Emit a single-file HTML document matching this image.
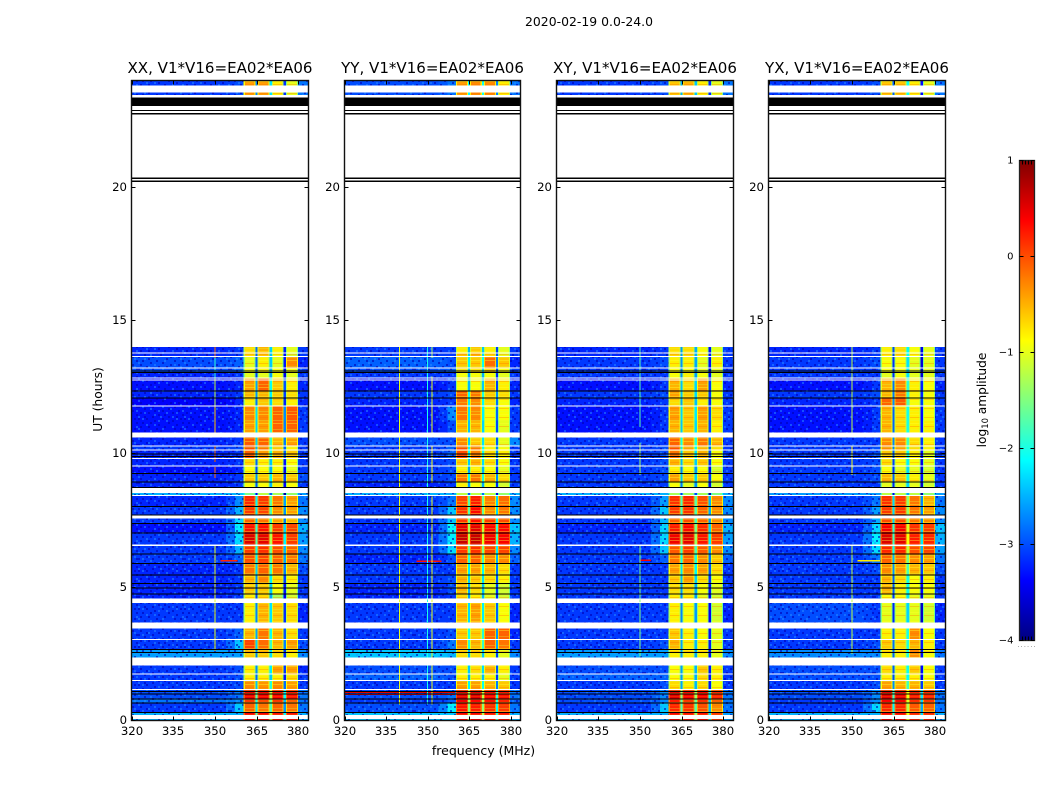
<!DOCTYPE html>
<html lang="en">
<head>
<meta charset="utf-8">
<title>2020-02-19 cross-power spectrograms</title>
<style>
html,body{margin:0;padding:0;background:#fff;}
svg{display:block;}
text{font-family:"DejaVu Sans","Liberation Sans",sans-serif;fill:#000;}
</style>
</head>
<body>
<svg id="chart" xmlns="http://www.w3.org/2000/svg" width="1050" height="800" viewBox="0 0 1050 800">
<defs>
<linearGradient id="jetGrad" x1="0" y1="1" x2="0" y2="0"></linearGradient>
<pattern id="speckle" width="46" height="38" patternUnits="userSpaceOnUse">
<path fill="#0000b4" opacity=".6" d="M0 0h2v2h-2zM8 0h2v2h-2zM16 2h2v2h-2zM24 0h2v2h-2zM34 2h2v2h-2zM42 0h2v2h-2zM4 4h2v2h-2zM12 4h2v2h-2zM20 6h2v2h-2zM30 4h2v2h-2zM38 6h2v2h-2zM44 4h2v2h-2zM2 8h2v2h-2zM10 8h2v2h-2zM26 8h2v2h-2zM36 10h2v2h-2zM18 10h2v2h-2zM42 10h2v2h-2zM6 12h2v2h-2zM14 14h2v2h-2zM22 12h2v2h-2zM32 14h2v2h-2zM40 14h2v2h-2zM0 14h2v2h-2zM10 16h2v2h-2zM28 16h2v2h-2zM44 18h2v2h-2zM4 18h2v2h-2zM18 18h2v2h-2zM36 18h2v2h-2zM24 20h2v2h-2zM12 20h2v2h-2zM2 22h2v2h-2zM32 22h2v2h-2zM40 22h2v2h-2zM8 24h2v2h-2zM20 24h2v2h-2zM28 24h2v2h-2zM44 26h2v2h-2zM14 26h2v2h-2zM36 26h2v2h-2zM0 26h2v2h-2zM6 28h2v2h-2zM24 30h2v2h-2zM16 30h2v2h-2zM30 28h2v2h-2zM40 30h2v2h-2zM10 32h2v2h-2zM2 32h2v2h-2zM34 32h2v2h-2zM20 34h2v2h-2zM44 34h2v2h-2zM26 34h2v2h-2zM6 36h2v2h-2zM14 36h2v2h-2zM38 36h2v2h-2zM30 36h2v2h-2z"/>
<path fill="#2a90ff" opacity=".5" d="M4 0h2v2h-2zM20 2h2v2h-2zM38 0h2v2h-2zM28 2h2v2h-2zM8 6h2v2h-2zM16 6h2v2h-2zM34 8h2v2h-2zM44 8h2v2h-2zM0 10h2v2h-2zM24 10h2v2h-2zM12 12h2v2h-2zM36 14h2v2h-2zM18 14h2v2h-2zM6 16h2v2h-2zM42 16h2v2h-2zM26 18h2v2h-2zM0 20h2v2h-2zM16 22h2v2h-2zM36 22h2v2h-2zM10 24h2v2h-2zM42 24h2v2h-2zM24 26h2v2h-2zM4 26h2v2h-2zM32 28h2v2h-2zM12 28h2v2h-2zM20 30h2v2h-2zM44 30h2v2h-2zM6 32h2v2h-2zM28 32h2v2h-2zM38 32h2v2h-2zM16 34h2v2h-2zM0 36h2v2h-2zM34 36h2v2h-2zM22 36h2v2h-2z"/>
</pattern>
<pattern id="bandStripes" width="8" height="9" patternUnits="userSpaceOnUse">
<rect x="0" y="0" width="8" height="1" fill="#ffff30" opacity=".4"/>
<rect x="0" y="3" width="8" height="1" fill="#ff6a00" opacity=".32"/>
<rect x="0" y="6" width="8" height="1" fill="#d8ff40" opacity=".3"/>
</pattern>
</defs>
<rect x="0" y="0" width="1050" height="800" fill="#fff"/>
<text x="589" y="26" font-size="12.4" text-anchor="middle" textLength="128">2020-02-19 0.0-24.0</text>
<text x="483.5" y="755" font-size="12.5" text-anchor="middle">frequency (MHz)</text>
<text transform="translate(102,399.5) rotate(-90)" font-size="12.3" text-anchor="middle">UT (hours)</text>
<text transform="translate(986,400) rotate(-90)" font-size="12.2" text-anchor="middle">log<tspan font-size="8.4" dy="2">10</tspan><tspan dy="-2"> amplitude</tspan></text>
<g id="panels"></g>
<g id="colorbar"></g>
</svg>
<script>
/* ---- shared axis data ---- */
const freqTicks = [320, 335, 350, 365, 380];
const timeTicks = [0, 5, 10, 15, 20];
const colorTicks = [1, 0, -1, -2, -3, -4];
const freqRange = [320, 383.6];
const timeRange = [0, 24];
const colorRange = [-4, 1];
const panelTitles = ['XX, V1*V16=EA02*EA06', 'YY, V1*V16=EA02*EA06', 'XY, V1*V16=EA02*EA06', 'YX, V1*V16=EA02*EA06'];

/* time rows (hours) each holding one estimated amplitude per frequency block */
const rowStart = [24,14,13.8,13.65,13.24,13.05,12.82,12.37,12.11,11.81,11.25,10.61,10.31,10.16,9.82,9.56,9.26,8.96,8.55,8.44,8.02,7.57,7.39,7.05,6.6,6.26,5.89,5.47,5.14,4.76,4.42,3.45,3.04,2.66,2.06,1.72,1.5,1.16,0.82,0.64,0.3];
const rowEnd = [23.45,13.8,13.65,13.24,13.05,12.82,12.37,12.11,11.81,11.25,10.8,10.31,10.16,9.82,9.56,9.26,8.96,8.74,8.44,8.02,7.72,7.39,7.05,6.6,6.26,5.89,5.47,5.14,4.76,4.54,3.67,3.04,2.66,2.36,1.72,1.5,1.16,0.82,0.64,0.3,0];

/* frequency blocks (MHz): base, ramp, band A, band B, band C, band D, upper edge */
const baseBlock = [320, 354];
const rampBlock = [354, 360.3];
const bandBlocks = [[360.3,364.6],[365.3,369.6],[370.4,374.7],[375.5,379.8]];
const gapBlocks = [[364.6,365.3],[369.6,370.4],[374.7,375.5]];
const upperBlock = [379.8, 383.6];

/* [base, ramp, A, B, C, D, upper] per row, log10 amplitude */
const valuesXX = [
[-3.1,-3,-.4,-.4,-.8,-1,-2.8],[-3.2,-3.1,-.7,-.5,-.8,-1,-3.1],[-3.2,-3.1,-.7,-.6,-.9,-1.1,-3.1],[-3,-2.9,-1,-.8,-1,-.3,-3.2],
[-3,-2.9,-.9,-.8,-.9,-.9,-3.1],[-3.2,-3.1,-1,-1,-.9,-1,-3.1],[-3.3,-3.2,-.4,-.1,-.6,-.8,-3.2],[-3.2,-3.1,-.5,-.5,-.6,-.7,-3.1],
[-3.4,-3.2,-.8,-.6,-.7,-.8,-3.2],[-3.3,-3.2,-.3,-.3,-.1,-.05,-3.1],[-3.3,-3.2,-.4,-.4,-.1,-.1,-3.1],[-3.2,-3.1,-.05,-.1,-.5,-.4,-3.1],
[-3.1,-3,0,-.2,-.6,-.8,-3.1],[-3.2,-3.1,-.1,-.4,-.5,-.6,-3.1],[-3.2,-3.1,-.7,-.8,-.8,-.9,-3.1],[-3.3,-3.2,-.9,-.9,-.9,-1,-3.1],
[-3.2,-3.1,-.6,-.6,-.5,-.6,-3],[-3.2,-3.1,-.9,-.9,-.8,-.9,-3.1],[-2.5,-2.4,-1.5,-1.2,-1.3,-1.4,-2.6],[-3.2,-2.7,.2,.1,-.2,-.4,-2.8],
[-3.1,-2.5,.1,.05,-.3,-.4,-2.7],[-3.1,-2.3,-.1,-.2,-.4,-.5,-2.7],[-3.3,-2.2,.3,.3,.1,.05,-2.5],[-3.1,-2.3,.55,.5,.3,.1,-2.6],
[-3.1,-2.5,.1,.15,0,-.1,-2.7],[-3.1,-2.9,0,.05,-.1,-.2,-2.8],[-3.2,-3.1,-.2,-.1,-.2,-.5,-3],[-3.2,-3.1,-.5,-.3,-.7,-.8,-3.1],
[-3.2,-3.1,-.6,-.6,-.9,-1,-3.1],[-3.2,-3.1,-.8,-.7,-1.3,-1.1,-3.1],[-3.1,-3.1,-.8,-.5,-.6,-.7,-3.2],[-3.1,-2.9,-.5,-.2,-.5,-.7,-3.1],
[-3.1,-2.4,.05,-.15,-.5,-.4,-3],[-2.6,-2.6,-.6,-.6,-.7,-.8,-2.7],[-3.1,-3,-.8,-.8,-.4,-.4,-3.2],[-3.1,-3,-.8,-.8,-.8,-.7,-3.1],
[-3.1,-3,-.3,-.35,-.3,-.4,-3.1],[-3,-2.8,.45,.4,.35,.3,-2.8],[-2.8,-2.7,.1,0,.1,-.1,-2.8],[-3.1,-2.4,-.1,-.2,-.1,-.2,-2.8],
[-2.5,-2.5,.4,.4,.3,.3,-2.5]];
const valuesYY = [
[-3,-2.8,-.4,-.3,-.3,-.8,-2.8],[-3.1,-3.1,-.8,-.6,-.8,-1,-3.1],[-3.1,-3.1,-.6,-.5,-.7,-1,-3.1],[-2.9,-3,-.6,-.6,-.15,-.6,-3.2],
[-3,-2.9,-.7,-.7,-.6,-.9,-3.1],[-3.1,-3.1,-.9,-.9,-.9,-1,-3.1],[-3.3,-3.1,-.9,-.9,-.5,-.8,-3.2],[-3.1,-3,-.1,-.2,-.6,-.7,-3.1],
[-3.2,-3.1,-.2,-.3,-.7,-.9,-3.2],[-3.3,-2.7,-.2,-.3,-.9,-.9,-3.1],[-3.3,-3,-.5,-.5,-.9,-1,-3.1],[-3,-3,-.3,-.6,-.7,-1,-2.7],
[-3.1,-2.9,0,-.2,-.8,-.9,-3.1],[-3.1,-2.9,0,-.25,-.7,-.8,-3.1],[-3.1,-3,-.6,-.5,-.7,-.9,-3.1],[-3.1,-3,-.8,-.8,-.9,-1,-3.1],
[-3.1,-3,-.2,-.2,-.5,-.7,-3.1],[-3.2,-3.1,-.8,-.9,-.9,-1.1,-3.1],[-2.5,-2.5,-1.2,-1.2,-1.2,-1.4,-2.5],[-3.1,-2.8,.05,.25,-.25,-.15,-2.7],
[-3.1,-2.4,.15,.35,-.3,-.2,-2.7],[-3.1,-2.4,.1,.3,.1,0,-2.7],[-3.2,-2.1,.5,.5,.35,.35,-2.4],[-3.1,-2.2,.65,.65,.45,.4,-2.5],
[-3.1,-2.3,.1,.15,.05,.05,-2.7],[-3.2,-3,-.1,-.1,-.3,-.3,-2.9],[-3.1,-3.1,-.4,-.4,-.5,-.7,-3.1],[-3.1,-3,-.5,-.6,-.7,-.8,-3.1],
[-3.2,-3,-.5,-.7,-1,-1.1,-3.1],[-3.2,-3.1,-.7,-.8,-1,-1.1,-3.1],[-3.1,-3.1,-.5,-.4,-.6,-.9,-3.2],[-3.1,-3,-.6,-.6,-.1,-.1,-3.2],
[-3.1,-2.8,-.3,-.5,-.1,-.2,-3.1],[-2.4,-2.5,-.7,-.7,-.8,-1,-2.7],[-3,-3,-.8,-.7,-.5,-.8,-3.1],[-2.9,-3,-.8,-.8,-.8,-1,-3.1],
[-3.1,-3.1,-.4,-.4,-.5,-.6,-3.1],[-3,-2.8,.5,.5,.35,.3,-2.8],[-3.1,-2.9,.45,.35,.3,.2,-2.9],[-3,-2.2,.3,.25,.15,.1,-2.8],
[-2.4,-2.4,.4,.4,.3,.3,-2.5]];
const valuesXY = [
[-3.1,-3,-.6,-.5,-.8,-1,-2.8],[-3.2,-3.1,-.7,-.7,-.9,-1,-3.1],[-3.2,-3.1,-.7,-.7,-.9,-1,-3.1],[-3.1,-3,-.8,-.8,-1,-.8,-3.1],
[-3.1,-3.1,-.9,-.9,-1,-1,-3.1],[-3.1,-3.1,-.9,-.8,-.9,-1,-3.1],[-3.3,-3.1,-.5,-.7,-.4,-.9,-3.2],[-3.1,-3,-.4,-.6,-.6,-.9,-3.1],
[-3.2,-3.1,-.7,-.6,-.8,-.9,-3.1],[-3.3,-3.1,-.4,-.6,-.4,-.7,-3.1],[-3.3,-3.1,-.5,-.6,-.5,-.8,-3.1],[-3.1,-3.1,-.1,-.3,-.2,-.5,-3.1],
[-3.1,-3,0,-.4,-.5,-.7,-3.1],[-3.1,-3,-.2,-.6,-.5,-.9,-3.1],[-3.1,-3,-.5,-.7,-.6,-.9,-3.1],[-3.1,-3,-.8,-.9,-.9,-1.1,-3.1],
[-3.1,-3,-.4,-.6,-.6,-.9,-3.1],[-3.1,-3.1,-.9,-1,-.9,-1.1,-3.1],[-2.5,-2.5,-1.3,-1.3,-1.3,-1.5,-2.5],[-3.1,-2.6,.15,.2,0,-.3,-2.7],
[-3.1,-2.4,.1,.15,-.1,-.3,-2.7],[-3.1,-2.5,-.1,0,-.1,-.3,-2.7],[-3.2,-2.3,.25,.35,.2,-.1,-2.5],[-3.1,-2.3,.45,.5,.3,.1,-2.6],
[-3.1,-2.4,-.05,.1,-.05,-.3,-2.7],[-3.1,-2.9,-.2,-.1,-.3,-.6,-2.9],[-3.1,-3.1,-.4,-.3,-.4,-.7,-3.1],[-3.1,-3.1,-.6,-.4,-.7,-.9,-3.1],
[-3.1,-3.1,-.7,-.7,-.9,-1,-3.1],[-3.1,-3.1,-.8,-.8,-1,-1.1,-3.1],[-3.1,-3.1,-.8,-.9,-.9,-1.1,-3.2],[-3.1,-3.1,-.6,-.8,-.9,-1,-3.1],
[-3.1,-3,-.5,-.8,-.8,-1,-3.1],[-2.6,-2.6,-.8,-.8,-.8,-1,-2.7],[-3,-3,-.9,-.9,-.6,-.8,-3.1],[-2.9,-2.9,-.9,-.9,-.7,-.8,-3.1],
[-3.1,-3,-.7,-.8,-.7,-.9,-3.1],[-3,-2.7,.5,.4,.4,.2,-2.8],[-3,-2.7,.25,.1,.15,-.1,-2.8],[-3.1,-2.4,.2,.15,0,-.3,-2.8],
[-2.5,-2.5,.4,.3,.3,.1,-2.6]];
const valuesYX = [
[-3.1,-3,-.6,-.6,-.8,-1,-2.8],[-3.2,-3.1,-.8,-.7,-.9,-1,-3.1],[-3.2,-3.1,-.8,-.7,-.9,-1,-3.1],[-3.1,-3,-.9,-.9,-1,-1,-3.1],
[-3.1,-3.1,-.9,-.9,-1,-1,-3.1],[-3.1,-3.1,-1,-.9,-1,-1,-3.1],[-3.3,-3.1,-.5,-.3,-.8,-.9,-3.2],[-3.1,-3,-.5,-.2,-.8,-.9,-3.1],
[-3.2,-3.1,-.1,-.05,-.9,-.9,-3.1],[-3.3,-3.1,-.5,-.7,-.8,-.9,-3.1],[-3.3,-3.1,-.5,-.7,-.8,-.8,-3.1],[-3.1,-3.1,-.3,-.3,-.7,-.8,-3.1],
[-3.1,-3,-.3,-.4,-.7,-.8,-3.1],[-3.1,-3,-.6,-.6,-.8,-1,-3.1],[-3.1,-3,-.7,-.9,-.9,-1,-3.1],[-3.1,-3,-.9,-1,-1,-1.1,-3.1],
[-3.1,-3,-.5,-.6,-.8,-1,-3.1],[-3.1,-3.1,-1,-1,-1,-1.1,-3.1],[-2.6,-2.6,-1.2,-1.2,-1.2,-1.4,-2.6],[-3.1,-2.8,.15,.1,-.2,-.5,-2.8],
[-3.1,-2.6,.1,.1,-.2,-.4,-2.7],[-3.1,-2.5,0,0,-.2,-.3,-2.7],[-3.2,-2.3,.4,.4,.15,.1,-2.4],[-3.1,-2.2,.55,.5,.25,.2,-2.5],
[-3.1,-2.3,.2,.2,0,.05,-2.6],[-3.1,-2.8,-.1,-.2,-.3,-.4,-2.8],[-3.1,-3,-.3,-.4,-.5,-.6,-3],[-3.1,-3.1,-.5,-.7,-.9,-.8,-3.1],
[-3.1,-3.1,-.5,-.8,-.9,-.9,-3.1],[-3.1,-3.1,-.9,-.9,-1,-1,-3.1],[-3,-3.1,-1,-1,-1,-1.1,-3.2],[-3.1,-3.1,-.8,-.8,-.3,-.9,-3.1],
[-3.1,-3,-.6,-.7,-.5,-.8,-3.1],[-2.7,-2.7,-.8,-.8,-.3,-.9,-2.8],[-3,-3,-.7,-.8,-.6,-.9,-3.1],[-3,-3,-.8,-.8,-.8,-.9,-3.1],
[-3.1,-3,-.4,-.5,-.5,-.6,-3.1],[-3,-2.7,.5,.45,.25,.2,-2.8],[-3.1,-2.7,.4,.4,.15,.1,-2.8],[-3.1,-2.3,.2,.2,-.05,-.1,-2.8],
[-2.5,-2.5,.4,.4,.2,.2,-2.5]];

/* amount the three narrow frequency notches sit below their row's band mean */
const gapOffsetsXX = [-2.1, -1.6, -2.5];
const gapOffsetsYY = [-1.7, -1.6, -2.3];
const gapOffsetsXY = [-1.8, -1.7, -2.5];
const gapOffsetsYX = [-2.2, -1.3, -2.6];

/* narrow interference at one frequency: [MHz, start hour, end hour, value] */
const linesXX = [[350,14,13.6,-.2],[350,13.6,12.8,-1.9],[350,12.8,11.8,-1.2],[350,11.8,10.8,-.6],[350,10.3,9.7,-.2],[350,9.5,9.1,-.2],[350,6.6,2.6,-1]];
const linesYY = [[339.8,14,.6,-1],[350,14,.6,-2],[351.6,14,13.6,-1.3],[351.6,12.9,10.8,-1],[351.6,10.3,8.9,-.9],[351.6,8.4,.6,-1]];
const linesXY = [[350,14,11,-1.7],[350,10.4,9.2,-1.3],[350,6.6,2.4,-1.5]];
const linesYX = [[350,14,10.8,-1.2],[350,10.3,9.2,-.9],[350,6.6,2.5,-1.2]];

/* short interference in time: [start hour, end hour, start MHz, end MHz, value] */
const burstsXX = [[1.02,.97,320,360,-1.3],[6.02,5.97,352,358,.2]];
const burstsYY = [[1.09,1.04,320,360,.5],[1,.96,320,360,.4],[6,5.95,346,355,.3]];
const burstsXY = [[1.02,.97,320,360,-1],[6.03,5.98,350,354,.4]];
const burstsYX = [[1.02,.97,320,360,-1],[6.02,5.97,352,360,-.8]];

/* fully flagged time ranges, identical on every baseline: [start hour, end hour] */
const blankRanges = [[23.81,23.55],[13.8,13.76],[13.67,13.63],[13.24,13.2],[12.86,12.82],[12.79,12.75],[11.82,11.78],[10.8,10.61],[10.32,10.28],[10.17,10.13],[9.84,9.8],[9.57,9.53],[8.71,8.54],[8.45,8.41],[7.66,7.57],[6.6,6.55],[4.57,4.53],[4.44,4.4],[3.65,3.46],[3.05,3.01],[2.37,2.06],[1.76,1.72],[1.52,1.48],[1.19,1.15],[.21,.06]];
const zeroRanges = [[23.36,23.04],[22.89,22.85],[22.79,22.73],[20.37,20.31],[20.25,20.19],[13.13,13.09],[13.07,13.03],[12.38,12.34],[12.12,12.08],[10.01,9.97],[9.92,9.88],[9.28,9.24],[8.97,8.93],[8.76,8.72],[8.04,8],[7.73,7.68],[7.41,7.37],[7.05,7.01],[6.27,6.23],[5.9,5.86],[5.48,5.44],[5.15,5.11],[4.99,4.95],[4.77,4.73],[2.69,2.65],[2.57,2.53],[1.11,1.07],[1.01,.97],[.83,.79],[.68,.64],[.32,.28]];

const panelValues = [valuesXX, valuesYY, valuesXY, valuesYX];
const panelGapOffsets = [gapOffsetsXX, gapOffsetsYY, gapOffsetsXY, gapOffsetsYX];
const panelLines = [linesXX, linesYY, linesXY, linesYX];
const panelBursts = [burstsXX, burstsYY, burstsXY, burstsYX];

/* ---- layout ---- */
const panelBoxes = [{x0:131.5,x1:308.5},{x0:344.5,x1:520.5},{x0:556.5,x1:733.5},{x0:768.5,x1:945.5}];
const plotTop = 80.5, plotBottom = 720.5;
const barBox = {x0:1019.5, x1:1034.5, y0:160.5, y1:640.5};
const SVGNS = 'http://www.w3.org/2000/svg';

function clamp(v){ return Math.max(0, Math.min(1, v)); }
function jet(t){
  const r = clamp(Math.min(4*t-1.5, -4*t+4.5));
  const g = clamp(Math.min(4*t-0.5, -4*t+3.5));
  const b = clamp(Math.min(4*t+0.5, -4*t+2.5));
  return 'rgb(' + Math.round(r*255) + ',' + Math.round(g*255) + ',' + Math.round(b*255) + ')';
}
function colorOf(v){ return jet((v - colorRange[0]) / (colorRange[1] - colorRange[0])); }
function yOf(h){ return plotBottom - (h - timeRange[0]) / (timeRange[1] - timeRange[0]) * (plotBottom - plotTop); }
function xScale(box){ return f => box.x0 + (f - freqRange[0]) / (freqRange[1] - freqRange[0]) * (box.x1 - box.x0); }
function rect(parent, x, y, w, h, fill){
  const r = document.createElementNS(SVGNS, 'rect');
  r.setAttribute('x', x.toFixed(2));
  r.setAttribute('y', y.toFixed(2));
  r.setAttribute('width', Math.max(w, 0).toFixed(2));
  r.setAttribute('height', Math.max(h, 0).toFixed(2));
  r.setAttribute('fill', fill);
  r.setAttribute('shape-rendering', 'crispEdges');
  parent.appendChild(r);
  return r;
}
function line(parent, x1, y1, x2, y2, stroke){
  const l = document.createElementNS(SVGNS, 'line');
  l.setAttribute('x1', x1); l.setAttribute('y1', y1);
  l.setAttribute('x2', x2); l.setAttribute('y2', y2);
  l.setAttribute('stroke', stroke);
  l.setAttribute('stroke-width', 1);
  parent.appendChild(l);
  return l;
}
function label(parent, x, y, str, size, anchor){
  const t = document.createElementNS(SVGNS, 'text');
  t.setAttribute('x', x); t.setAttribute('y', y);
  t.setAttribute('font-size', size);
  t.setAttribute('text-anchor', anchor);
  t.textContent = str;
  parent.appendChild(t);
  return t;
}
function group(parent){
  const g = document.createElementNS(SVGNS, 'g');
  parent.appendChild(g);
  return g;
}
function minus(v){ return String(v).replace('-', '\u2212'); }

function drawPanel(p){
  const box = panelBoxes[p], xOf = xScale(box);
  const values = panelValues[p], offsets = panelGapOffsets[p];
  const root = document.getElementById('panels');
  const g = group(root);
  
  

  const bg = rect(g, box.x0, plotTop, box.x1 - box.x0, plotBottom - plotTop, '#fff');
  
  

  const cells = group(g);
  
  

  values.forEach((row, i) => {
    const y = yOf(rowStart[i]), h = yOf(rowEnd[i]) - y;
    const bands = row.slice(2, 6);
    const mean = bands.reduce((a, b) => a + b, 0) / bands.length;
    const paint = (span, v, texture) => {
      const x = xOf(span[0]), w = xOf(span[1]) - x;
      const c = rect(cells, x, y, w, h, colorOf(v));
      
      
      if (texture) {
        const o = rect(cells, x, y, w, h, 'url(#' + texture + ')');
        
        
      }
    };
    paint(baseBlock, row[0], 'speckle');
    const rampMid = (rampBlock[0] + rampBlock[1]) / 2;
    paint([rampBlock[0], rampMid], (row[0] * 2 + row[1]) / 3, 'speckle');
    paint([rampMid, rampBlock[1]], row[1], 'speckle');
    bandBlocks.forEach((span, b) => {
      paint(span, bands[b], 'bandStripes');
      paint([span[0], span[0] + 0.4], bands[b] - 0.5, null);
      paint([span[1] - 0.4, span[1]], bands[b] - 0.5, null);
    });
    gapBlocks.forEach((span, b) => paint(span, mean + offsets[b], null));
    paint(upperBlock, row[6], 'speckle');
  });

  panelBursts[p].forEach(b => {
    const y = yOf(b[0]);
    const c = rect(cells, xOf(b[2]), y, xOf(b[3]) - xOf(b[2]), yOf(b[1]) - y, colorOf(b[4]));
    
    
  });
  panelLines[p].forEach(l => {
    const y = yOf(l[1]);
    const c = rect(cells, xOf(l[0]) - 0.5, y, 1, yOf(l[2]) - y, colorOf(l[3]));
    
    
  });

  blankRanges.forEach(r => {
    const y = yOf(r[0]);
    const c = rect(g, box.x0, y, box.x1 - box.x0, yOf(r[1]) - y, '#fff');
    
    
  });
  zeroRanges.forEach(r => {
    const y = yOf(r[0]);
    const c = rect(g, box.x0, y, box.x1 - box.x0, yOf(r[1]) - y, '#000');
    
    
  });

  const frame = document.createElementNS(SVGNS, 'rect');
  frame.setAttribute('x', box.x0);
  frame.setAttribute('y', plotTop);
  frame.setAttribute('width', box.x1 - box.x0);
  frame.setAttribute('height', plotBottom - plotTop);
  frame.setAttribute('fill', 'none');
  frame.setAttribute('stroke', '#111');
  frame.setAttribute('stroke-width', '1.4');
  
  
  g.appendChild(frame);

  const title = label(g, (box.x0 + box.x1) / 2, 73, panelTitles[p], 15.05, 'middle');
  
  

  freqTicks.forEach(f => {
    const x = Math.round(xOf(f)) + 0.5;
    const lower = line(g, x, plotBottom, x, plotBottom - 4, '#000');
    
    
    const upper = line(g, x, plotTop, x, plotTop + 4, '#000');
    
    
    const t = label(g, x - 0.5, 735, String(f), 11.7, 'middle');
    
    
  });
  timeTicks.forEach(h => {
    const y = Math.round(yOf(h) - 0.5) + 0.5;
    const left = line(g, box.x0, y, box.x0 + 4, y, '#000');
    
    
    const right = line(g, box.x1, y, box.x1 - 4, y, '#000');
    
    
    const t = label(g, box.x0 - 4.5, y + 3.5, String(h), 11.7, 'end');
    
    
  });
}

function drawColorbar(){
  const root = document.getElementById('colorbar');
  const grad = document.getElementById('jetGrad');
  for (let i = 0; i <= 32; i++) {
    const s = document.createElementNS(SVGNS, 'stop');
    s.setAttribute('offset', (i / 32).toFixed(4));
    s.setAttribute('stop-color', jet(i / 32));
    grad.appendChild(s);
  }
  const bar = document.createElementNS(SVGNS, 'rect');
  bar.setAttribute('x', barBox.x0);
  bar.setAttribute('y', barBox.y0);
  bar.setAttribute('width', barBox.x1 - barBox.x0);
  bar.setAttribute('height', barBox.y1 - barBox.y0);
  bar.setAttribute('fill', 'url(#jetGrad)');
  bar.setAttribute('stroke', '#222');
  bar.setAttribute('stroke-width', '1.3');
  
  
  root.appendChild(bar);

  const span = colorRange[1] - colorRange[0];
  colorTicks.forEach(v => {
    const y = Math.round(barBox.y1 - (v - colorRange[0]) / span * (barBox.y1 - barBox.y0) - 0.5) + 0.5;
    const a = line(root, barBox.x0, y, barBox.x0 + 4, y, '#000');
    
    
    const b = line(root, barBox.x1, y, barBox.x1 - 4, y, '#000');
    
    
    const t = label(root, barBox.x0 - 6, y + 3, minus(v), 10, 'end');
    
    
  });
  for (let x = barBox.x0 + 3; x < barBox.x1 - 1; x += 3) {
    const a = line(root, x, barBox.y0, x, barBox.y0 + 4, '#000');
    
    
    const b = line(root, x, barBox.y1, x, barBox.y1 - 4, '#000');
    
    
  }
  const dots = label(root, 1026.5, 647, '. . . . . .', 5, 'middle');
  dots.setAttribute('fill', '#777');
  
  
}

panelBoxes.forEach((_, p) => drawPanel(p));
drawColorbar();
</script>
</body>
</html>
